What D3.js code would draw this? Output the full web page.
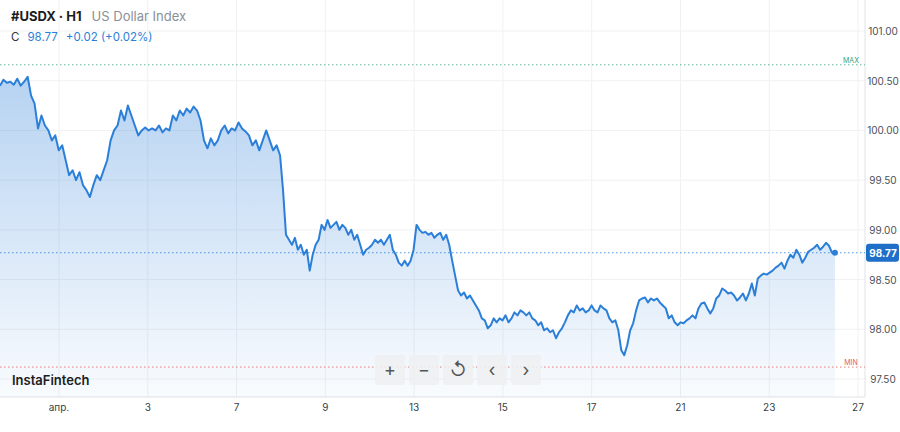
<!DOCTYPE html>
<html><head><meta charset="utf-8">
<script src="https://cdn.jsdelivr.net/npm/d3@7"></script>
<style>body{margin:0;background:#fff;font-family:Inter,"Noto Sans",sans-serif}</style>
</head><body><svg id="c" width="900" height="432"></svg>
<script>
// hourly closes
var closes = [100.45,100.51,100.48,100.49,100.46,100.52,100.45,100.49,100.54,100.35,100.27,100.02,100.15,100.05,100.00,99.90,99.95,99.80,99.85,99.70,99.55,99.60,99.50,99.58,99.45,99.40,99.33,99.45,99.55,99.50,99.60,99.70,99.90,100.00,100.05,100.20,100.10,100.25,100.15,100.05,99.95,100.00,100.03,100.00,100.02,100.00,100.05,99.98,100.02,100.00,100.15,100.10,100.20,100.15,100.22,100.18,100.24,100.20,100.10,99.90,99.82,99.92,99.85,99.90,100.00,100.05,99.97,100.02,100.00,100.08,100.02,99.99,99.95,99.85,99.90,99.80,99.90,100.00,99.90,99.80,99.85,99.75,99.40,98.95,98.90,98.85,98.92,98.80,98.85,98.75,98.80,98.59,98.75,98.85,98.90,99.05,99.00,99.10,99.02,99.05,99.08,99.00,99.05,99.02,98.95,99.00,98.90,98.95,98.85,98.75,98.80,98.82,98.85,98.90,98.87,98.90,98.85,98.90,98.95,98.80,98.75,98.67,98.64,98.69,98.64,98.69,98.80,99.05,99.00,98.97,98.98,98.95,98.97,98.92,98.95,98.97,98.90,98.95,98.85,98.69,98.54,98.39,98.34,98.37,98.31,98.34,98.29,98.24,98.19,98.11,98.09,98.01,98.04,98.11,98.07,98.11,98.09,98.14,98.07,98.11,98.17,98.14,98.19,98.17,98.14,98.17,98.11,98.09,98.04,98.07,97.99,98.01,97.97,97.99,97.91,97.97,98.01,98.07,98.14,98.19,98.17,98.24,98.19,98.21,98.17,98.19,98.24,98.19,98.17,98.24,98.21,98.19,98.11,98.07,98.09,97.99,97.79,97.74,97.84,97.99,98.06,98.19,98.29,98.31,98.32,98.27,98.31,98.29,98.31,98.27,98.24,98.21,98.11,98.14,98.07,98.04,98.07,98.06,98.09,98.11,98.14,98.11,98.21,98.26,98.27,98.21,98.16,98.21,98.31,98.34,98.41,98.39,98.36,98.37,98.34,98.29,98.32,98.36,98.29,98.36,98.46,98.34,98.51,98.54,98.56,98.55,98.57,98.59,98.62,98.64,98.67,98.61,98.69,98.75,98.72,98.80,98.75,98.67,98.72,98.78,98.80,98.82,98.85,98.80,98.83,98.87,98.84,98.77,98.77];
var yTicks = [97.5, 98, 98.5, 99, 99.5, 100, 100.5, 101];
var xTickSlots = [0, 2, 4, 6, 8, 10, 12, 14, 16, 18];
var xTickLabels = ["апр.", "3", "7", "9", "13", "15", "17", "21", "23", "27"];
// where bars sit on the trading-day axis (index -> day slot)
var anchorIndex = [0, 81, closes.length - 1];
var anchorSlot = [-1.33, 4.98, 17.48];
var maxLevel = 100.66, minLevel = 97.62, lastClose = 98.77;

var svg = d3.select("#c");
var W = 865, B = 397;
var y = d3.scaleLinear().domain([97.5, 101]).range([379, 31]);
var x = d3.scaleLinear().domain([0, 18]).range([59, 858]);
var slot = d3.scaleLinear().domain(anchorIndex).range(anchorSlot);

var defs = svg.append("defs");
var g = defs.append("linearGradient").attr("id","fillg").attr("x1",0).attr("x2",0).attr("y1",0).attr("y2",1);
g.append("stop").attr("offset","0%").attr("stop-color","#2f80d8").attr("stop-opacity",0.35);
g.append("stop").attr("offset","100%").attr("stop-color","#2f80d8").attr("stop-opacity",0.03);

// grid
svg.append("g").selectAll("line").data(yTicks).enter().append("line")
  .attr("x1",0).attr("x2",W).attr("y1",function(d){return y(d)}).attr("y2",function(d){return y(d)})
  .attr("stroke","#f0f1f3");
svg.append("g").selectAll("line").data(xTickSlots).enter().append("line")
  .attr("x1",function(d){return x(d)}).attr("x2",function(d){return x(d)})
  .attr("y1",0).attr("y2",B).attr("stroke","#f0f1f3");
svg.append("line").attr("x1",W).attr("x2",W).attr("y1",0).attr("y2",B).attr("stroke","#dfe2e6");
svg.append("line").attr("x1",0).attr("x2",W).attr("y1",B).attr("y2",B).attr("stroke","#dfe2e6");

// area + line
svg.append("path").datum(closes)
  .attr("d", d3.area().x(function(d,i){return x(slot(i))}).y0(B).y1(function(d){return y(d)}))
  .attr("fill","url(#fillg)");
svg.append("path").datum(closes)
  .attr("d", d3.line().x(function(d,i){return x(slot(i))}).y(function(d){return y(d)}))
  .attr("fill","none").attr("stroke","#2b7fd9").attr("stroke-width",2).attr("stroke-linejoin","round");

// level lines
function level(v, col, lab){
  svg.append("line").attr("x1",0).attr("x2",W).attr("y1",y(v)).attr("y2",y(v))
    .attr("stroke",col).attr("stroke-dasharray","1.5,2.5").attr("opacity",0.8);
  if (lab) svg.append("text").attr("x",851).attr("y",y(v)-2).attr("text-anchor","middle")
    .attr("font-size",7).attr("fill",col).text(lab);
}
level(maxLevel, "#3aa57a", "MAX");
level(minLevel, "#e06060", "MIN");
level(lastClose, "#2b7fd9", null);
svg.append("circle").attr("cx",x(slot(closes.length-1))).attr("cy",y(lastClose)).attr("r",3).attr("fill","#2b7fd9");

// axes labels
svg.append("g").selectAll("text").data(yTicks).enter().append("text")
  .attr("x",883).attr("y",function(d){return y(d)+4}).attr("text-anchor","middle")
  .attr("font-size",10).attr("fill","#4a4f57").text(function(d){return d.toFixed(2)});
svg.append("g").selectAll("text").data(xTickSlots).enter().append("text")
  .attr("x",function(d){return x(d)}).attr("y",411).attr("text-anchor","middle")
  .attr("font-size",10).attr("fill","#3a3f47").text(function(d,i){return xTickLabels[i]});

// price badge
svg.append("rect").attr("x",866).attr("y",y(lastClose)-9).attr("width",33).attr("height",18).attr("rx",3).attr("fill","#1f6fc9");
svg.append("text").attr("x",883).attr("y",y(lastClose)+4).attr("text-anchor","middle")
  .attr("font-size",10).attr("font-weight","bold").attr("fill","#fff").text(lastClose.toFixed(2));

// header
var h = svg.append("text").attr("x",11).attr("y",21).attr("font-size",13);
h.append("tspan").attr("font-weight","bold").attr("fill","#1b1d21").text("#USDX · H1");
h.append("tspan").attr("dx",10).attr("fill","#8a8f96").text("US Dollar Index");
var c = svg.append("text").attr("x",11).attr("y",41).attr("font-size",11.5);
c.append("tspan").attr("fill","#333").text("C");
c.append("tspan").attr("dx",8).attr("fill","#2b7fd9").text("98.77");
c.append("tspan").attr("dx",8).attr("fill","#2b7fd9").text("+0.02 (+0.02%)");

svg.append("text").attr("x",12).attr("y",385).attr("font-size",13).attr("font-weight",600)
  .attr("fill","#1b1d21").text("InstaFintech");

// toolbar
var btns = ["+","−","↺","‹","›"];
var tb = svg.append("g").selectAll("g").data(btns).enter().append("g")
  .attr("transform",function(d,i){return "translate("+(375+i*34)+",355)"});
tb.append("rect").attr("width",30).attr("height",30).attr("rx",3).attr("fill","#eef0f2").attr("opacity",0.9);
tb.append("text").attr("x",15).attr("y",21).attr("text-anchor","middle").attr("font-size",18)
  .attr("fill","#555").text(function(d){return d});
</script></body></html>
